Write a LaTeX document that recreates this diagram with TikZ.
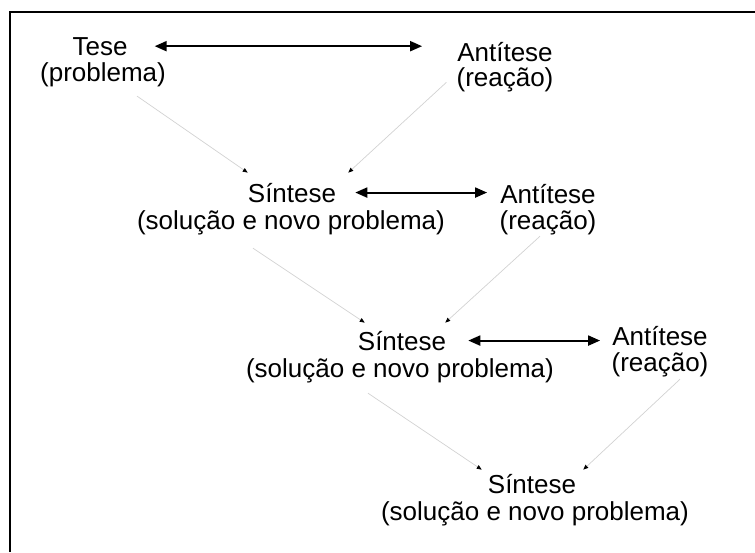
\documentclass[tikz,border=0pt]{standalone}
\usepackage{fontspec}
\setmainfont{Liberation Sans}
\usetikzlibrary{arrows.meta}
\tikzset{
  stageWord/.style={inner sep=0pt, anchor=base, font=\fontsize{26}{28}\selectfont},
  stageNote/.style={inner sep=0pt, anchor=base, font=\fontsize{26}{28}\selectfont},
  pairArrow/.style={line width=2pt, {Triangle[length=12pt,width=10pt]}-{Triangle[length=12pt,width=10pt]}},
  flowArrow/.style={draw=gray!35, line width=0.7pt, -{Triangle[length=5pt,width=4pt,color=black]}},
  frameLine/.style={line width=2pt}
}

\begin{document}
\begin{tikzpicture}[x=1pt,y=-1pt]
  \useasboundingbox (0,0) rectangle (755,552);
  \draw[frameLine] (10,552) -- (10,12) -- (755,12);

  % first row
  \node[stageWord] (tese) at (100,55) {Tese};
  \node[stageNote] (teseSub) at (103,81) {(problema)};
  \node[stageWord] (anti1) at (505,61) {Antítese};
  \node[stageNote] (anti1Sub) at (505,86) {(reação)};

  % second row
  \node[stageWord] (sint1) at (292,202) {Síntese};
  \node[stageNote] (sint1Sub) at (291,229) {(solução e novo problema)};
  \node[stageWord] (anti2) at (548,203) {Antítese};
  \node[stageNote] (anti2Sub) at (548,229) {(reação)};

  % third row
  \node[stageWord] (sint2) at (402,350) {Síntese};
  \node[stageNote] (sint2Sub) at (400,377) {(solução e novo problema)};
  \node[stageWord] (anti3) at (660,345) {Antítese};
  \node[stageNote] (anti3Sub) at (660,371) {(reação)};

  % last row
  \node[stageWord] (sint3) at (532,493) {Síntese};
  \node[stageNote] (sint3Sub) at (535,520) {(solução e novo problema)};

  % opposing pairs
  \draw[pairArrow, shorten <=27pt, shorten >=35pt] (tese.east) -- (tese.east -| anti1.west);
  \draw[pairArrow, shorten <=19pt, shorten >=13pt] (sint1.east) -- (sint1.east -| anti2.west);
  \draw[pairArrow, shorten <=22pt, shorten >=12pt] (sint2.east) -- (sint2.east -| anti3.west);

  % merging into the synthesis
  \draw[flowArrow] ([xshift=34pt,yshift=-9.5pt]teseSub.south) -- ([yshift=10pt]sint1.north west);
  \draw[flowArrow] ([xshift=-10pt,yshift=-3pt]anti1Sub.west) -- ([xshift=12pt,yshift=10pt]sint1.north east);
  \draw[flowArrow] ([xshift=-38pt,yshift=-13.5pt]sint1Sub.south) -- ([xshift=7pt,yshift=8pt]sint2.north west);
  \draw[flowArrow] ([xshift=-8pt,yshift=-1.5pt]anti2Sub.south) -- ([xshift=-1pt,yshift=8pt]sint2.north east);
  \draw[flowArrow] ([xshift=-32pt,yshift=-10.5pt]sint2Sub.south) -- ([xshift=-6pt,yshift=4pt]sint3.north west);
  \draw[flowArrow] ([xshift=20pt,yshift=-2.5pt]anti3Sub.south) -- ([xshift=7pt,yshift=4pt]sint3.north east);
\end{tikzpicture}
\end{document}
